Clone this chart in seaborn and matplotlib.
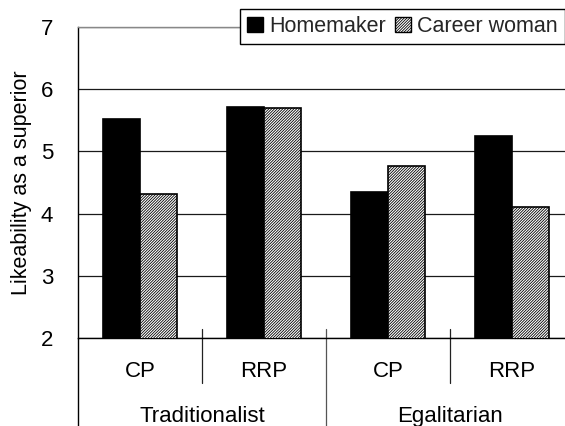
import numpy as np
import pandas as pd
import seaborn as sns
import matplotlib.pyplot as plt
import matplotlib.transforms as mtransforms
from matplotlib.lines import Line2D
from matplotlib.patches import Patch

# Mean likeability ratings per condition
groups = ["Traditionalist", "Traditionalist", "Egalitarian", "Egalitarian"]
conditions = ["CP", "RRP", "CP", "RRP"]
homemaker = [5.52, 5.71, 4.34, 5.25]
career_woman = [4.31, 5.70, 4.77, 4.11]
series = ["Homemaker", "Career woman"]
yticks = [2, 3, 4, 5, 6, 7]
group_names = ["Traditionalist", "Egalitarian"]

HATCH = "/" * 12

sns.set_theme(style="white")
plt.rcParams['font.family'] = ['Liberation Sans', 'DejaVu Sans']
plt.rcParams['hatch.linewidth'] = 0.6

keys = [f"{g} {c}" for g, c in zip(groups, conditions)]
df = pd.DataFrame({
    "key": keys * 2,
    "type": [series[0]] * len(keys) + [series[1]] * len(keys),
    "value": homemaker + career_woman,
})

W, H = 565, 426
fig = plt.figure(figsize=(W / 100, H / 100), dpi=100)
ax = fig.add_axes([78 / W, 88 / H, 496 / W, 311 / H])

sns.barplot(data=df, x="key", y="value", hue="type", order=keys,
            hue_order=series, palette=["black", "white"], width=0.6,
            saturation=1, ax=ax, legend=False, edgecolor="black",
            linewidth=1.2, zorder=3)
for p in ax.containers[1]:
    p.set_hatch(HATCH)

ax.set_ylim(2, 7)
ax.set_xlim(-0.5, len(keys) - 0.5)
ax.set_yticks(yticks)
ax.grid(axis="y", color="#1a1a1a", linewidth=0.9)
ax.set_axisbelow(True)
ax.tick_params(axis="y", length=0, pad=18, labelsize=16, labelcolor="black")
ax.set_xticks([])
ax.set_xlabel("")
ax.set_ylabel("Likeability as a superior", fontsize=15.5, labelpad=6, color="black")

for side in ["left", "bottom"]:
    ax.spines[side].set_color("black")
    ax.spines[side].set_linewidth(1.0)
ax.spines["top"].set_color("#888888")
ax.spines["top"].set_linewidth(1.0)
ax.spines["right"].set_visible(False)

trans = mtransforms.blended_transform_factory(ax.transData, ax.transAxes)
fig_bottom = -88 / 311

# left axis line continues below the plot area
ax.add_line(Line2D([0, 0], [0, fig_bottom], transform=ax.transAxes,
                   color="black", linewidth=1.0, clip_on=False))

# condition labels and separators
for i, c in enumerate(conditions):
    ax.text(i, -0.109, c, transform=trans, ha="center", va="center",
            fontsize=16, color="black")
for x in [0.5, 2.5]:
    ax.add_line(Line2D([x, x], [0.029, -0.145], transform=trans,
                       color="#222222", linewidth=0.9, clip_on=False))
ax.add_line(Line2D([1.5, 1.5], [0.029, fig_bottom], transform=trans,
                   color="#555555", linewidth=0.9, clip_on=False))

# group labels
for j, g in enumerate(group_names):
    ax.text(2 * j + 0.5, -0.254, g, transform=trans, ha="center",
            va="center", fontsize=16, color="black")

handles = [Patch(facecolor="black", edgecolor="black"),
           Patch(facecolor="white", edgecolor="black", hatch=HATCH)]
leg = fig.legend(handles, series, loc="upper left",
                 bbox_to_anchor=(240 / W, 1 - 9 / H), ncol=2, frameon=True,
                 fancybox=False, edgecolor="black", framealpha=1,
                 fontsize=15.5, handlelength=0.74, handleheight=0.7,
                 handletextpad=0.3, columnspacing=0.4, borderpad=0.32,
                 borderaxespad=0)
leg.get_frame().set_linewidth(1.0)

fig.savefig("out.png", dpi=100)
